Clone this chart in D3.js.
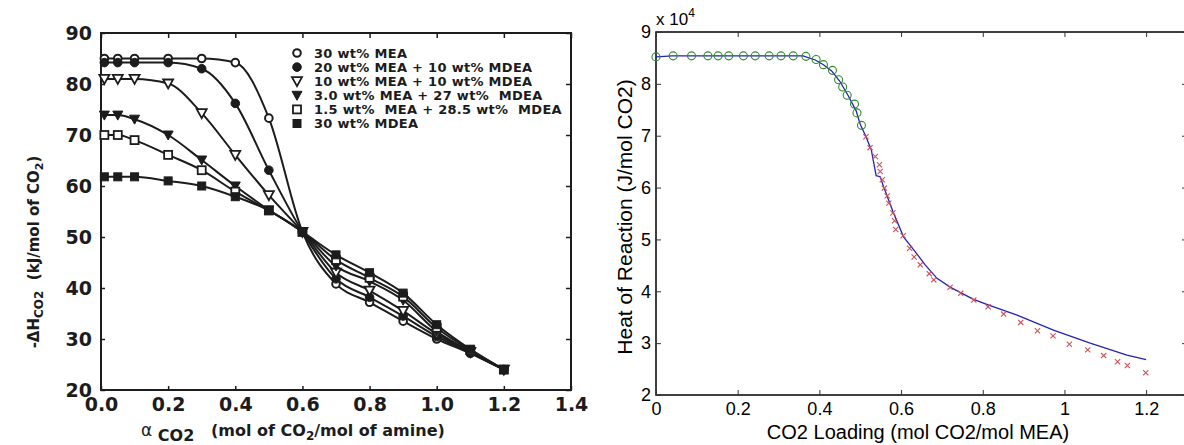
<!DOCTYPE html>
<html>
<head>
<meta charset="UTF-8">
<title>heat of absorption</title>
<style>
  body { margin: 0; background: #fff; }
  svg { display: block; }
</style>
</head>
<body>
<script src="https://cdn.jsdelivr.net/npm/d3@7"></script>
<script>
  // ---- left panel: measured heat of absorption, six solvents ----
  let loadings = [0.01, 0.05, 0.1, 0.2, 0.3, 0.4, 0.5, 0.6, 0.7, 0.8, 0.9, 1.0, 1.1, 1.2]
  let mea30 = [85.0, 85.0, 85.0, 85.0, 85.0, 84.2, 73.3, 51.0, 40.8, 37.2, 33.5, 30.0, 27.2, 24.0]
  let mea20mdea10 = [84.2, 84.2, 84.2, 84.2, 83.0, 76.2, 63.1, 51.0, 41.8, 38.2, 34.5, 30.5, 27.3, 24.0]
  let mea10mdea10 = [81.0, 81.0, 81.0, 80.1, 74.3, 66.1, 58.2, 51.0, 43.0, 39.5, 35.5, 31.0, 27.4, 24.0]
  let mea3mdea27 = [73.9, 73.9, 73.1, 70.0, 65.1, 60.0, 55.3, 51.0, 44.3, 41.3, 37.6, 31.5, 27.6, 24.0]
  let mea15mdea285 = [70.0, 70.0, 69.0, 66.1, 63.1, 58.9, 55.2, 51.0, 45.5, 42.0, 38.3, 32.2, 27.8, 24.0]
  let mdea30 = [61.8, 61.8, 61.8, 61.0, 60.0, 57.9, 55.2, 51.0, 46.5, 43.0, 39.0, 32.8, 28.0, 24.0]
  let legendNames = ['30 wt% MEA', '20 wt% MEA + 10 wt% MDEA', '10 wt% MEA + 10 wt% MDEA',
    '3.0 wt% MEA + 27 wt%  MDEA', '1.5 wt%  MEA + 28.5 wt%  MDEA', '30 wt% MDEA']
  let markerKinds = ['circleOpen', 'circle', 'triOpen', 'tri', 'squareOpen', 'square']
  let leftXTicks = [0, 0.2, 0.4, 0.6, 0.8, 1.0, 1.2, 1.4]
  let leftYTicks = [20, 30, 40, 50, 60, 70, 80, 90]

  // ---- right panel: model (line) vs data (circles / crosses), x 10^4 J/mol ----
  let circleX = [0, 0.042, 0.087, 0.127, 0.152, 0.178, 0.214, 0.243, 0.277, 0.306, 0.336, 0.367, 0.392, 0.41, 0.432, 0.447, 0.457, 0.468, 0.486, 0.492, 0.503]
  let circleY = [8.52, 8.54, 8.54, 8.54, 8.54, 8.54, 8.54, 8.54, 8.54, 8.54, 8.54, 8.53, 8.47, 8.37, 8.26, 8.08, 7.94, 7.78, 7.61, 7.44, 7.20]
  let crossX = [0.514, 0.524, 0.537, 0.547, 0.549, 0.554, 0.559, 0.566, 0.570, 0.580, 0.584, 0.587, 0.605, 0.621, 0.632, 0.647, 0.669, 0.680, 0.720, 0.746, 0.778, 0.813, 0.851, 0.893, 0.934, 0.972, 1.012, 1.057, 1.096, 1.130, 1.154, 1.199]
  let crossY = [6.98, 6.77, 6.60, 6.44, 6.31, 6.15, 5.99, 5.84, 5.70, 5.51, 5.36, 5.19, 5.07, 4.83, 4.66, 4.51, 4.34, 4.22, 4.08, 3.96, 3.83, 3.70, 3.56, 3.40, 3.24, 3.14, 2.98, 2.87, 2.76, 2.64, 2.57, 2.43]
  let modelX = [0, 0.04, 0.36, 0.39, 0.41, 0.43, 0.45, 0.47, 0.49, 0.50, 0.513, 0.527, 0.539, 0.549, 0.557, 0.58, 0.606, 0.631, 0.659, 0.688, 0.72, 0.776, 0.813, 0.884, 0.973, 1.063, 1.153, 1.2]
  let modelY = [8.52, 8.54, 8.54, 8.46, 8.37, 8.25, 8.05, 7.78, 7.48, 7.22, 7.0, 6.73, 6.23, 6.21, 6.02, 5.54, 5.05, 4.80, 4.51, 4.25, 4.08, 3.85, 3.74, 3.54, 3.25, 3.00, 2.77, 2.68]
  let rightXTicks = [0, 0.2, 0.4, 0.6, 0.8, 1.0, 1.2]
  let rightYTicks = [2, 3, 4, 5, 6, 7, 8, 9]

  let svg = d3.select('body').append('svg')
    .attr('width', 1184)
    .attr('height', 445)

  // ================= left panel =================
  let ink = '#1c1c1c'
  let xL = d3.scaleLinear().domain([0, 1.4]).range([101, 571])
  let yL = d3.scaleLinear().domain([20, 90]).range([390, 33])
  let left = svg.append('g')
  let boldFont = 'DejaVu Sans'

  left.append('rect')
    .attr('x', xL(0)).attr('y', yL(90))
    .attr('width', xL(1.4) - xL(0)).attr('height', yL(20) - yL(90))
    .attr('fill', 'none').attr('stroke', ink).attr('stroke-width', 2)

  let lb = left.append('g').attr('transform', `translate(0,${yL(20)})`)
    .call(d3.axisBottom(xL).tickValues(leftXTicks).tickSize(-4).tickSizeOuter(0).tickPadding(8).tickFormat(d3.format('.1f')))
  let ll = left.append('g').attr('transform', `translate(${xL(0)},0)`)
    .call(d3.axisLeft(yL).tickValues(leftYTicks).tickSize(-4).tickSizeOuter(0).tickPadding(9).tickFormat(d3.format('d')))
  left.append('g').attr('transform', `translate(0,${yL(90)})`)
    .call(d3.axisTop(xL).tickValues(leftXTicks).tickSize(-5).tickSizeOuter(0).tickFormat(''))
  left.append('g').attr('transform', `translate(${xL(1.4)},0)`)
    .call(d3.axisRight(yL).tickValues(leftYTicks).tickSize(-5).tickSizeOuter(0).tickFormat(''))
  left.selectAll('.domain').remove()
  left.selectAll('.tick line').attr('stroke', ink).attr('stroke-width', 1.5)
  ;[lb, ll].forEach(g => g.selectAll('text')
    .attr('font-family', boldFont).attr('font-weight', 'bold').attr('font-size', 19).attr('fill', ink))

  let leftSeries = [mea30, mea20mdea10, mea10mdea10, mea3mdea27, mea15mdea285, mdea30]
  let lineL = d3.line().x((d, i) => xL(loadings[i])).y(d => yL(d)).curve(d3.curveMonotoneX)

  function drawMarker(g, kind, cx, cy) {
    let open = kind.endsWith('Open')
    let fill = open ? '#fff' : ink
    if (kind.startsWith('circle')) {
      g.append('circle').attr('cx', cx).attr('cy', cy).attr('r', open ? 3.8 : 4.3)
        .attr('fill', fill).attr('stroke', ink).attr('stroke-width', open ? 2 : 1)
    } else if (kind.startsWith('tri')) {
      g.append('path').attr('d', `M${cx - 5},${cy - 4}L${cx + 5},${cy - 4}L${cx},${cy + 5}Z`)
        .attr('fill', fill).attr('stroke', ink).attr('stroke-width', open ? 1.8 : 1)
    } else {
      g.append('rect').attr('x', cx - 4).attr('y', cy - 4).attr('width', 8).attr('height', 8)
        .attr('fill', fill).attr('stroke', ink).attr('stroke-width', open ? 1.8 : 1)
    }
  }

  leftSeries.forEach((vals, k) => {
    left.append('path').datum(vals).attr('d', lineL)
      .attr('fill', 'none').attr('stroke', ink).attr('stroke-width', 2)
  })
  leftSeries.forEach((vals, k) => {
    let g = left.append('g')
    vals.forEach((v, i) => drawMarker(g, markerKinds[k], xL(loadings[i]), yL(v)))
  })

  // legend
  let leg = left.append('g')
  legendNames.forEach((name, i) => {
    let y = 53 + i * 14.1
    drawMarker(leg, markerKinds[i], 297, y)
    leg.append('text').attr('x', 314).attr('y', y).attr('dy', '0.36em')
      .attr('font-family', boldFont).attr('font-weight', 'bold').attr('font-size', 13)
      .attr('letter-spacing', 0.3)
      .attr('fill', ink).style('white-space', 'pre').text(name)
  })

  // axis titles
  let ytl = left.append('text')
    .attr('transform', 'translate(39,252) rotate(-90)')
    .attr('text-anchor', 'middle')
    .attr('font-family', boldFont).attr('font-weight', 'bold').attr('font-size', 15).attr('fill', ink)
  ytl.append('tspan').text('-ΔH')
  ytl.append('tspan').attr('dy', 4).attr('font-size', 12).text('CO2')
  ytl.append('tspan').attr('dy', -4).style('white-space', 'pre').text('  (kJ/mol of CO')
  ytl.append('tspan').attr('dy', 4).attr('font-size', 11).text('2')
  ytl.append('tspan').attr('dy', -4).text(')')

  let xtl = left.append('text').attr('x', 141).attr('y', 436)
    .attr('font-family', boldFont).attr('font-weight', 'bold').attr('font-size', 16).attr('fill', ink)
    .style('white-space', 'pre')
  xtl.append('tspan').attr('font-weight', 'normal').attr('font-size', 17).text('α')
  xtl.append('tspan').attr('dy', 5).text(' CO2')
  xtl.append('tspan').attr('dy', -5).text('   (mol of CO')
  xtl.append('tspan').attr('dy', 4).attr('font-size', 12).text('2')
  xtl.append('tspan').attr('dy', -4).text('/mol of amine)')

  // ================= right panel =================
  let xR = d3.scaleLinear().domain([0, 1.3]).range([656, 1187])
  let yR = d3.scaleLinear().domain([2, 9]).range([395, 32])
  let right = svg.append('g')
  let sans = 'Liberation Sans, Arial, sans-serif'

  right.append('rect')
    .attr('x', xR(0)).attr('y', yR(9))
    .attr('width', xR(1.3) - xR(0)).attr('height', yR(2) - yR(9))
    .attr('fill', 'none').attr('stroke', '#000').attr('stroke-width', 1.5)

  let rb = right.append('g').attr('transform', `translate(0,${yR(2)})`)
    .call(d3.axisBottom(xR).tickValues(rightXTicks).tickSize(-5).tickSizeOuter(0).tickPadding(7).tickFormat(d3.format('~g')))
  let rl = right.append('g').attr('transform', `translate(${xR(0)},0)`)
    .call(d3.axisLeft(yR).tickValues(rightYTicks).tickSize(-5).tickSizeOuter(0).tickPadding(5).tickFormat(d3.format('d')))
  right.append('g').attr('transform', `translate(0,${yR(9)})`)
    .call(d3.axisTop(xR).tickValues(rightXTicks).tickSize(-5).tickSizeOuter(0).tickFormat(''))
  right.append('g').attr('transform', `translate(${xR(1.3)},0)`)
    .call(d3.axisRight(yR).tickValues(rightYTicks).tickSize(-5).tickSizeOuter(0).tickFormat(''))
  right.selectAll('.domain').remove()
  right.selectAll('.tick line').attr('stroke', '#333').attr('stroke-width', 1)
  ;[rb, rl].forEach(g => g.selectAll('text')
    .attr('font-family', sans).attr('font-size', 18).attr('fill', '#000'))

  // multiplier label
  let mult = right.append('text').attr('x', xR(0)).attr('y', 25)
    .attr('font-family', sans).attr('font-size', 17).attr('fill', '#000')
  mult.append('tspan').text('x 10')
  mult.append('tspan').attr('dy', -8).attr('font-size', 12).text('4')

  let lineR = d3.line().x((d, i) => xR(modelX[i])).y(d => yR(d))
  right.append('path').datum(modelY).attr('d', lineR)
    .attr('fill', 'none').attr('stroke', '#2323b4').attr('stroke-width', 1.3)

  right.append('g').selectAll('circle').data(circleY).join('circle')
    .attr('cx', (d, i) => xR(circleX[i])).attr('cy', d => yR(d)).attr('r', 4)
    .attr('fill', 'none').attr('stroke', '#2f8a2f').attr('stroke-width', 1.1)

  right.append('g').selectAll('path').data(crossY).join('path')
    .attr('d', (d, i) => {
      let cx = xR(crossX[i]), cy = yR(d), s = 2.6
      return `M${cx - s},${cy - s}L${cx + s},${cy + s}M${cx - s},${cy + s}L${cx + s},${cy - s}`
    })
    .attr('fill', 'none').attr('stroke', '#d0505a').attr('stroke-width', 1.1)

  right.append('text')
    .attr('transform', 'translate(632,217) rotate(-90)')
    .attr('text-anchor', 'middle')
    .attr('font-family', sans).attr('font-size', 21).attr('fill', '#000')
    .text('Heat of Reaction (J/mol CO2)')

  right.append('text')
    .attr('x', 918).attr('y', 439)
    .attr('text-anchor', 'middle')
    .attr('font-family', sans).attr('font-size', 20).attr('fill', '#000')
    .text('CO2 Loading (mol CO2/mol MEA)')
</script>
</body>
</html>
